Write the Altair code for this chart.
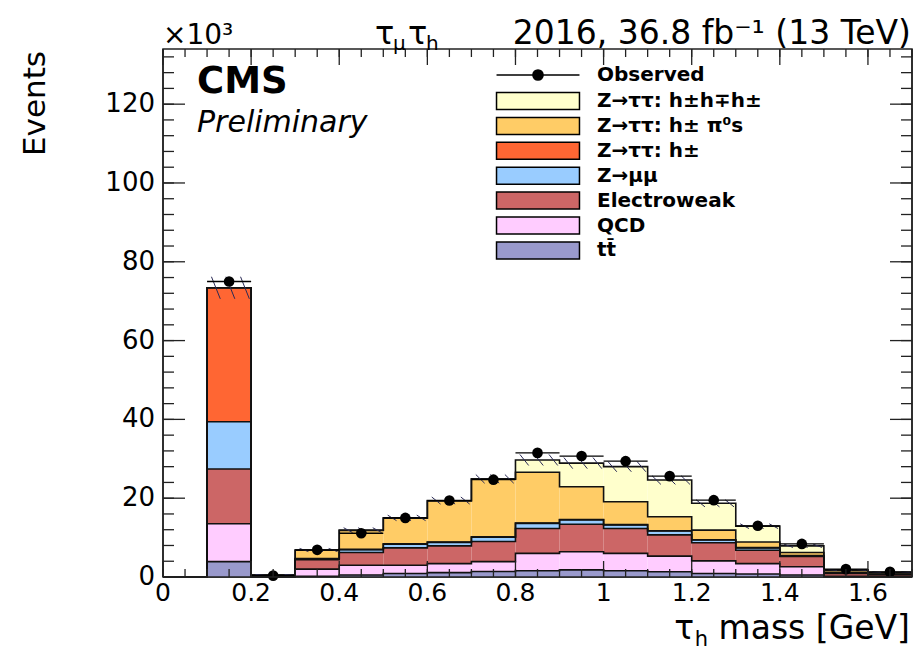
import altair as alt
import pandas as pd

# ---------------- data (values in thousands of events) ----------------
bin_lo = [0.1, 0.2, 0.3, 0.4, 0.5, 0.6, 0.7, 0.8, 0.9, 1.0, 1.1, 1.2, 1.3, 1.4, 1.5, 1.6]
bin_width = 0.1

ttbar      = [3.9, 0.0, 0.2, 0.5, 0.9, 1.1, 1.4, 1.6, 1.8, 1.6, 1.35, 0.9, 0.75, 0.5, 0.05, 0.05]
qcd        = [9.6, 0.05, 1.8, 2.5, 2.1, 2.3, 2.5, 4.4, 4.6, 4.4, 3.95, 3.2, 2.65, 2.1, 0.1, 0.05]
ewk        = [13.9, 0.15, 2.4, 3.2, 4.4, 4.5, 5.1, 6.3, 7.0, 6.3, 5.4, 4.6, 3.4, 2.6, 0.75, 0.5]
zmm        = [12.0, 0.05, 0.2, 0.7, 0.9, 0.9, 1.1, 1.3, 1.1, 0.9, 1.0, 0.7, 0.6, 0.2, 0.1, 0.05]
ztt_1prong = [34.0, 0.2, 0.1, 0.1, 0.1, 0.1, 0.1, 0.1, 0.1, 0.1, 0.05, 0.05, 0.05, 0.05, 0.05, 0.05]
ztt_pi0    = [0.0, 0.05, 2.1, 4.8, 6.5, 10.4, 14.6, 12.9, 8.3, 5.8, 3.55, 2.45, 1.45, 0.75, 0.55, 0.35]
ztt_3prong = [0.0, 0.0, 0.05, 0.1, 0.1, 0.1, 0.1, 3.1, 6.0, 8.9, 9.3, 6.8, 4.0, 1.7, 0.2, 0.15]
observed   = [75.0, 0.35, 6.9, 11.1, 15.0, 19.4, 24.7, 31.5, 30.7, 29.4, 25.6, 19.5, 13.0, 8.4, 2.0, 1.3]
mc_unc     = [2.8, 0.1, 0.4, 0.6, 0.7, 0.9, 1.1, 1.4, 1.4, 1.3, 1.1, 0.9, 0.6, 0.4, 0.1, 0.1]

# stack order bottom -> top
stack_names = ["t" + "t\u0304", "QCD", "Electroweak", "Z\u2192\u03bc\u03bc",
               "Z\u2192\u03c4\u03c4: h\u00b1", "Z\u2192\u03c4\u03c4: h\u00b1  \u03c0\u2070s",
               "Z\u2192\u03c4\u03c4: h\u00b1h\u2213h\u00b1"]
stack_colors = ["#9999cc", "#ffccff", "#cc6666", "#99ccff", "#ff6633", "#ffcc66", "#ffffcc"]
series = [ttbar, qcd, ewk, zmm, ztt_1prong, ztt_pi0, ztt_3prong]

x_major = [0, 0.2, 0.4, 0.6, 0.8, 1.0, 1.2, 1.4, 1.6]
x_major_labels = ["0", "0.2", "0.4", "0.6", "0.8", "1", "1.2", "1.4", "1.6"]
x_minor = [round(i * 0.05, 2) for i in range(35)]
y_major = [0, 20, 40, 60, 80, 100, 120]
y_major_labels = ["0", "20", "40", "60", "80", "100", "120"]
y_minor = [i * 4 for i in range(34)]

# ---------------- derived tables ----------------
n = len(bin_lo)
rects, steps = [], []
cum = [0.0] * n
for name, vals in zip(stack_names, series):
    for i in range(n):
        y0 = cum[i]
        y1 = cum[i] + vals[i]
        rects.append(dict(comp=name, lo=bin_lo[i], hi=bin_lo[i] + bin_width, y0=y0, y1=y1))
        cum[i] = y1
    steps.append(dict(comp=name, x=0.0, y=0.0))
    for i in range(n):
        steps.append(dict(comp=name, x=bin_lo[i], y=cum[i]))
    steps.append(dict(comp=name, x=bin_lo[-1] + bin_width, y=cum[-1]))
rect_df = pd.DataFrame(rects)
step_df = pd.DataFrame(steps)

hatch = []
for i in range(n):
    top = cum[i] + mc_unc[i]
    bot = max(cum[i] - mc_unc[i], 0)
    for j in range(3):
        xs = bin_lo[i] + 0.01 + j * 0.033
        hatch.append(dict(x=xs, x2=min(xs + 0.02, bin_lo[i] + bin_width), y=top, y2=bot))
hatch_df = pd.DataFrame(hatch)

obs_df = pd.DataFrame(dict(lo=bin_lo, hi=[b + bin_width for b in bin_lo],
                           c=[b + bin_width / 2 for b in bin_lo], obs=observed,
                           kind=["Observed"] * n))

W, H = 749, 528
xs_ = alt.Scale(domain=[0, 1.7], nice=False, zero=False)
ys_ = alt.Scale(domain=[0, 134], nice=False)
FONT = "DejaVu Sans"
AX = "#222"

legend_order = stack_names[::-1]
legend_colors = stack_colors[::-1]

rect_path = "M-4.88,-1H4.88V1H-4.88Z"
obs_path = "M-4.88,0H4.88" + "".join(
    f"M{r},0A{r},{r},0,1,1,-{r},0A{r},{r},0,1,1,{r},0" for r in [0.1, 0.2, 0.3, 0.4, 0.5, 0.6])

legend_common = dict(title=None, orient="none", legendX=332, symbolSize=289, symbolOffset=33,
                     labelOffset=49, symbolStrokeColor="black", symbolStrokeWidth=1.5,
                     symbolOpacity=1, labelFont=FONT, labelFontWeight="bold",
                     labelFontSize=20, labelColor="black", labelLimit=400, padding=0)

bars = alt.Chart(rect_df).mark_rect().encode(
    x=alt.X("lo:Q", scale=xs_, axis=None),
    x2="hi:Q",
    y=alt.Y("y0:Q", scale=ys_, axis=None),
    y2="y1:Q",
    fill=alt.Fill("comp:N", scale=alt.Scale(domain=legend_order, range=legend_colors),
                  legend=alt.Legend(legendY=42, symbolType=rect_path, rowPadding=0.9,
                                    **legend_common)),
)

step_lines = alt.Chart(step_df).mark_line(interpolate="step-after", color="#111",
                                          strokeWidth=1.6).encode(
    x=alt.X("x:Q", scale=xs_, axis=None),
    y=alt.Y("y:Q", scale=ys_, axis=None),
    detail="comp:N",
)

hatch_lines = alt.Chart(hatch_df).mark_rule(color="#2a2a55", strokeWidth=1).encode(
    x=alt.X("x:Q", scale=xs_, axis=None), x2="x2:Q",
    y=alt.Y("y:Q", scale=ys_, axis=None), y2="y2:Q",
)

obs_bars = alt.Chart(obs_df).mark_rule(strokeWidth=1.3).encode(
    x=alt.X("lo:Q", scale=xs_, axis=None), x2="hi:Q",
    y=alt.Y("obs:Q", scale=ys_, axis=None),
    color=alt.Color("kind:N", scale=alt.Scale(domain=["Observed"], range=["black"]),
                    legend=alt.Legend(legendY=16, symbolType=obs_path,
                                      symbolFillColor="black", **legend_common)),
)

obs_pts = alt.Chart(obs_df).mark_circle(size=113, color="black", opacity=1).encode(
    x=alt.X("c:Q", scale=xs_, axis=None),
    y=alt.Y("obs:Q", scale=ys_, axis=None),
)


def xticks(vals, length):
    d = pd.DataFrame(dict(v=vals))
    b = alt.Chart(d).mark_rule(color=AX, strokeWidth=1.3).encode(
        x=alt.X("v:Q", scale=xs_, axis=None), y=alt.value(H), y2=alt.value(H - length))
    t = alt.Chart(d).mark_rule(color=AX, strokeWidth=1.3).encode(
        x=alt.X("v:Q", scale=xs_, axis=None), y=alt.value(0), y2=alt.value(length))
    return [b, t]


def yticks(vals, length):
    d = pd.DataFrame(dict(v=vals))
    l = alt.Chart(d).mark_rule(color=AX, strokeWidth=1.3).encode(
        y=alt.Y("v:Q", scale=ys_, axis=None), x=alt.value(0), x2=alt.value(length))
    r = alt.Chart(d).mark_rule(color=AX, strokeWidth=1.3).encode(
        y=alt.Y("v:Q", scale=ys_, axis=None), x=alt.value(W), x2=alt.value(W - length))
    return [l, r]


# tick labels (drawn through the scales)
xlab = alt.Chart(pd.DataFrame(dict(v=x_major, t=x_major_labels))).mark_text(
    font=FONT, fontSize=25, color="black", align="center", baseline="top").encode(
    x=alt.X("v:Q", scale=xs_, axis=None), y=alt.value(H + 4), text="t:N")
ylab = alt.Chart(pd.DataFrame(dict(v=y_major, t=y_major_labels))).mark_text(
    font=FONT, fontSize=26, color="black", align="right", baseline="middle").encode(
    y=alt.Y("v:Q", scale=ys_, axis=None), x=alt.value(-8), text="t:N")

frame = [
    alt.Chart(pd.DataFrame(dict(a=[0]))).mark_rule(color=AX, strokeWidth=1.5).encode(
        x=alt.value(0), x2=alt.value(W), y=alt.value(H)),
    alt.Chart(pd.DataFrame(dict(a=[0]))).mark_rule(color=AX, strokeWidth=1.5).encode(
        x=alt.value(0), y=alt.value(0), y2=alt.value(H)),
    alt.Chart(pd.DataFrame(dict(a=[0]))).mark_rule(color=AX, strokeWidth=1.5).encode(
        x=alt.value(W), y=alt.value(0), y2=alt.value(H)),
]

one = pd.DataFrame(dict(a=[0]))


def txt(s, x, y, size, align="left", weight="normal", style="normal", angle=0,
        baseline="alphabetic"):
    kw = dict(text=s, font=FONT, fontSize=size, color="black", align=align,
              baseline=baseline, fontWeight=weight, fontStyle=style)
    if angle:
        kw["angle"] = angle
    return alt.Chart(one).mark_text(**kw).encode(x=alt.value(x), y=alt.value(y))


texts = [
    txt("CMS", 34, 44, 37, weight="bold"),
    txt("Preliminary", 34, 83, 30, style="italic"),
    txt("\u00d710\u00b3", 0, -5, 28),
    txt("2016, 36.8 fb\u207b\u00b9 (13 TeV)", W - 1, -5, 33, align="right"),
    txt("\u03c4", 212, -5, 32),
    txt("\u03bc", 230, 1, 20),
    txt("\u03c4", 245, -5, 32),
    txt("h", 263, 1, 20),
    txt("Events", -127, 2, 31, align="right", angle=270, baseline="middle"),
    txt("mass [GeV]", W - 2, 590, 33, align="right"),
    txt("h", 545, 597, 21, align="right"),
    txt("\u03c4", 531, 590, 33, align="right"),
]

layers = [bars, step_lines, hatch_lines, obs_bars, obs_pts]
layers += xticks(x_minor, 8) + xticks(x_major, 16) + yticks(y_minor, 11) + yticks(y_major, 22)
layers += frame + [xlab, ylab] + texts

chart = alt.layer(*layers).properties(
    width=W, height=H,
    padding={"left": 163, "top": 49, "right": 6, "bottom": 75},
    autosize=alt.AutoSizeParams(type="none"),
).configure_view(stroke=AX, strokeWidth=1.5)

chart.save("out.html", embed_options={"renderer": "svg", "actions": False})
